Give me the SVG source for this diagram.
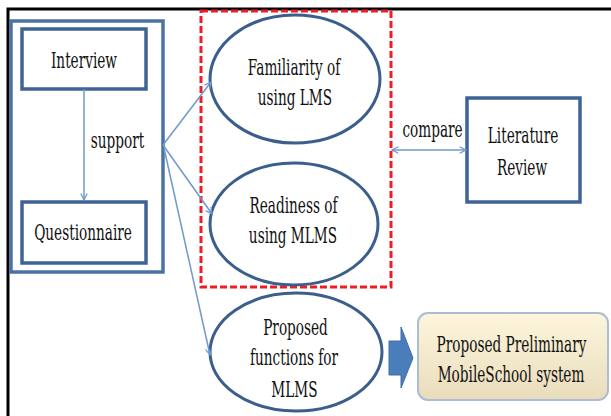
<svg xmlns="http://www.w3.org/2000/svg" width="611" height="416" viewBox="0 0 611 416">
<defs>
<style>
text{font-family:"DejaVu Serif","Liberation Serif",serif;font-size:22px;fill:#111;text-anchor:middle}
.box{fill:#fff;stroke:#3e6396;stroke-width:3.5}
.ell{fill:#fff;stroke:#3b5e8c;stroke-width:3}
.con{fill:none;stroke:#6f98cc;stroke-width:1.5}
</style>
<marker id="ah" viewBox="0 0 10 10" refX="9" refY="5" markerWidth="8" markerHeight="8" orient="auto-start-reverse" markerUnits="userSpaceOnUse">
<path d="M1,1 L9,5 L1,9" fill="none" stroke="#6f98cc" stroke-width="1.5"/>
</marker>
<linearGradient id="g" x1="0" y1="0" x2="0" y2="1">
<stop offset="0" stop-color="#fdf6dc"/>
<stop offset="1" stop-color="#e9dcbc"/>
</linearGradient>
</defs>
<rect width="611" height="416" fill="#fff"/>
<path d="M8,416 V9 H611" fill="none" stroke="#000" stroke-width="3"/>

<g id="group-left">
<rect x="11" y="21" width="152" height="251" fill="none" stroke="#4c72a3" stroke-width="3.5"/>
</g>
<g id="interview">
<rect class="box" x="22" y="29" width="124" height="60"/>
<text transform="translate(84,68) scale(0.62,1)">Interview</text>
</g>
<g id="questionnaire">
<rect class="box" x="22" y="202" width="124" height="61"/>
<text transform="translate(83,240) scale(0.62,1)">Questionnaire</text>
</g>

<g id="focus-box">
<rect x="201" y="11" width="190" height="276" fill="none" stroke="#ee1c24" stroke-width="3" stroke-dasharray="7,3"/>
</g>
<g id="familiarity">
<ellipse class="ell" cx="295" cy="79" rx="85" ry="64"/>
<text transform="translate(294,75) scale(0.62,1)">Familiarity of</text>
<text transform="translate(295,105) scale(0.62,1)">using LMS</text>
</g>
<g id="readiness">
<ellipse class="ell" cx="294" cy="224" rx="84" ry="61"/>
<text transform="translate(293.5,213) scale(0.62,1)">Readiness of</text>
<text transform="translate(293,243) scale(0.62,1)">using MLMS</text>
</g>
<g id="literature">
<rect class="box" x="467" y="98" width="113" height="104"/>
<text transform="translate(523,143) scale(0.62,1)">Literature</text>
<text transform="translate(522,175) scale(0.62,1)">Review</text>
</g>
<g id="proposed-functions">
<ellipse class="ell" cx="296" cy="352" rx="86" ry="59"/>
<text transform="translate(295.5,335) scale(0.62,1)">Proposed</text>
<text transform="translate(294,365) scale(0.62,1)">functions for</text>
<text transform="translate(294.5,397) scale(0.62,1)">MLMS</text>
</g>
<g id="preliminary">
<rect x="418" y="313" width="190" height="87" rx="10" fill="url(#g)" stroke="#a9bdd6" stroke-width="2"/>
<text transform="translate(511.5,352) scale(0.62,1)">Proposed Preliminary</text>
<text transform="translate(511,382) scale(0.62,1)">MobileSchool system</text>
</g>

<g id="connectors">
<line class="con" x1="84" y1="89" x2="84" y2="200" marker-end="url(#ah)"/>
<text transform="translate(117.5,148) scale(0.62,1)">support</text>
<line class="con" x1="163" y1="145" x2="211" y2="82" marker-end="url(#ah)"/>
<line class="con" x1="163" y1="145" x2="212" y2="214" marker-end="url(#ah)"/>
<line class="con" x1="164" y1="148" x2="210" y2="355" marker-end="url(#ah)"/>
<line class="con" x1="392" y1="150" x2="466" y2="150" marker-start="url(#ah)" marker-end="url(#ah)"/>
<text transform="translate(432.5,137) scale(0.62,1)">compare</text>
<path d="M389,341 H401 V327 L413,358 L401,388 V375 H389 Z" fill="#4a7ebb" stroke="#3f6ea6" stroke-width="1"/>
</g>
</svg>
